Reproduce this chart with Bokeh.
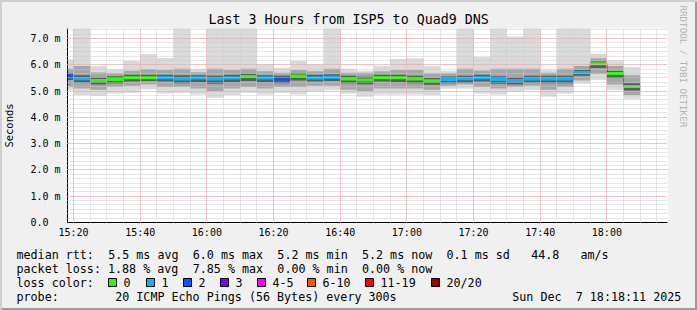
import re
import pandas as pd
from bokeh.plotting import figure
from bokeh.layouts import column
from bokeh.models import (FixedTicker, DatetimeTickFormatter, Range1d,
                          ColumnDataSource, Title)
from bokeh.core.properties import value
from bokeh.embed import file_html
from bokeh.resources import INLINE

# ---------------- data ----------------
title_text = "Last 3 Hours from ISP5 to Quad9 DNS"
window_start = "2025-12-07 15:18:11"
window_end = "2025-12-07 18:18:11"
first_bin = "2025-12-07 15:15"
n_bins = 35
bin_minutes = 5

median_ms = [5.58, 5.47, 5.40, 5.44, 5.51, 5.51, 5.51, 5.46, 5.50, 5.46, 5.50, 5.55,
             5.50, 5.46, 5.57, 5.50, 5.53, 5.46, 5.42, 5.51, 5.51, 5.46, 5.39, 5.44,
             5.47, 5.51, 5.44, 5.40, 5.46, 5.46, 5.46, 5.71, 6.04, 5.67, 5.17]
loss_count = [2, 1, 0, 0, 0, 0, 1, 1, 1, 1, 1, 0, 1, 2, 0, 1, 1, 0, 0, 0, 0, 0, 0, 1,
              1, 1, 1, 1, 1, 1, 1, 1, 0, 0, 0]
ping_max = [6.20, 7.50, 5.95, 5.83, 6.14, 6.41, 6.26, 7.50, 5.85, 7.50, 7.50, 7.50,
            6.01, 5.89, 6.14, 6.01, 7.50, 5.85, 5.77, 5.95, 6.22, 6.25, 5.95, 5.77,
            7.50, 6.30, 7.50, 7.08, 7.50, 5.81, 7.50, 7.50, 6.42, 6.17, 5.92]
ping_min = [5.03, 4.85, 4.82, 4.91, 4.94, 5.06, 4.91, 4.94, 4.87, 4.75, 4.85, 4.94,
            4.87, 4.94, 4.87, 4.99, 5.03, 4.91, 4.78, 4.87, 4.87, 4.87, 4.85, 5.09,
            5.09, 4.91, 4.87, 4.97, 5.03, 4.78, 4.91, 5.28, 5.42, 5.03, 4.69]
ping_hi1 = [5.85, 5.95, 5.71, 5.68, 5.77, 5.83, 5.80, 5.85, 5.72, 5.85, 5.80, 5.85,
            5.75, 5.70, 5.80, 5.75, 5.85, 5.70, 5.70, 5.75, 5.80, 5.80, 5.68, 5.68,
            5.85, 5.78, 5.85, 5.85, 5.85, 5.70, 5.85, 5.95, 6.25, 5.95, 5.60]
ping_lo1 = [5.15, 5.10, 5.05, 5.15, 5.20, 5.25, 5.15, 5.15, 5.10, 5.00, 5.10, 5.15,
            5.10, 5.15, 5.15, 5.20, 5.20, 5.05, 5.00, 5.10, 5.10, 5.10, 5.05, 5.20,
            5.25, 5.15, 5.10, 5.15, 5.20, 5.05, 5.15, 5.40, 5.65, 5.25, 4.85]
ping_hi2 = [5.68, 5.60, 5.52, 5.56, 5.62, 5.62, 5.62, 5.60, 5.60, 5.58, 5.62, 5.66,
            5.60, 5.58, 5.68, 5.62, 5.64, 5.58, 5.54, 5.62, 5.62, 5.58, 5.50, 5.55,
            5.58, 5.62, 5.56, 5.52, 5.58, 5.58, 5.58, 5.80, 6.12, 5.76, 5.30]
ping_lo2 = [5.42, 5.32, 5.25, 5.30, 5.36, 5.38, 5.36, 5.30, 5.34, 5.28, 5.34, 5.38,
            5.34, 5.30, 5.40, 5.36, 5.38, 5.30, 5.26, 5.36, 5.34, 5.30, 5.24, 5.30,
            5.32, 5.36, 5.28, 5.25, 5.32, 5.30, 5.30, 5.58, 5.88, 5.50, 5.02]

loss_labels = ["0", "1", "2", "3", "4-5", "6-10", "11-19", "20/20"]
loss_colors = ["#26ff00", "#00b8ff", "#0059ff", "#7e00ff", "#ff00ff", "#ff5500",
               "#ff0000", "#a10000"]

y_ticks = [0, 1, 2, 3, 4, 5, 6, 7]
y_tick_labels = ["0.0\u00a0\u00a0", "1.0 m", "2.0 m", "3.0 m", "4.0 m", "5.0 m",
                 "6.0 m", "7.0 m"]
x_tick_times = ["15:20", "15:40", "16:00", "16:20", "16:40", "17:00", "17:20",
                "17:40", "18:00"]

legend_lines = [
    "median rtt:  5.5 ms avg  6.0 ms max  5.2 ms min  5.2 ms now  0.1 ms sd   44.8   am/s",
    "packet loss: 1.88 % avg  7.85 % max  0.00 % min  0.00 % now",
    "loss color:",
    "probe:        20 ICMP Echo Pings (56 Bytes) every 300s",
]
date_text = "Sun Dec  7 18:18:11 2025"
credit_text = "RRDTOOL / TOBI OETIKER"
y_max = 7.38

# ---------------- helpers ----------------
def ms(ts):
    return pd.Timestamp(ts).value / 1e6

starts = pd.date_range(first_bin, periods=n_bins, freq=f"{bin_minutes}min")
left = [ms(t) for t in starts]
right = [ms(t + pd.Timedelta(minutes=bin_minutes)) for t in starts]

src = ColumnDataSource(dict(
    left=left, right=right, med=median_ms, mx=ping_max, mn=ping_min,
    hi1=ping_hi1, lo1=ping_lo1, hi2=ping_hi2, lo2=ping_lo2,
    col=[loss_colors[c] for c in loss_count],
))

MONO = "DejaVu Sans Mono"
BACK = "#f0f0f0"
W = 697
H1, H2 = 240, 70
FL, FR, FT, FB = 67, 667, 28, 228   # frame edges on canvas
CW = 7.05                           # monospace column width of legend text
TXT = "11.7px"

p = figure(width=W, height=H1, output_backend="svg", toolbar_location=None,
           x_axis_type="datetime",
           x_range=Range1d(ms(window_start), ms(window_end)),
           y_range=Range1d(0, y_max),
           min_border_left=FL, min_border_right=W - FR,
           min_border_top=FT, min_border_bottom=H1 - FB)
p.frame_align = False
p.title.text = title_text
p.title.align = "left"
p.title.offset = 141
p.title.text_font = MONO
p.title.text_font_size = "13.3px"
p.title.text_font_style = "normal"
p.title.text_color = "#000000"
p.title.standoff = 3
p.background_fill_color = "#ffffff"
p.border_fill_alpha = 0.0
p.outline_line_color = None

credit = Title(text=credit_text, align="left", vertical_align="top",
               text_font=MONO, text_font_size="9.2px", text_font_style="normal",
               text_color="#b4b4b4", offset=-23, standoff=16)
p.add_layout(credit, "right")

# smoke
p.quad(left="left", right="right", bottom="mn", top="mx", source=src,
       fill_color="#dadada", line_color=None)
p.quad(left="left", right="right", bottom="lo1", top="hi1", source=src,
       fill_color="#a6a6a6", line_color=None)
p.quad(left="left", right="right", bottom="lo2", top="hi2", source=src,
       fill_color="#5c5c5c", line_color=None)

# median
p.step(x=left + [right[-1]], y=median_ms + [median_ms[-1]], mode="after",
       line_color="#202020", line_width=1)
p.segment(x0="left", x1="right", y0="med", y1="med", source=src,
          line_color="col", line_width=3)

# axes
xt = [ms("2025-12-07 " + t) for t in x_tick_times]
minor_x = [ms(t) for t in pd.date_range("2025-12-07 15:20", "2025-12-07 18:15", freq="5min")]
p.xaxis.ticker = FixedTicker(ticks=xt, minor_ticks=minor_x)
p.xaxis.formatter = DatetimeTickFormatter(minutes="%H:%M", hours="%H:%M", minsec="%H:%M")
p.yaxis.ticker = FixedTicker(ticks=y_ticks, minor_ticks=[i / 6 for i in range(0, 45)])
p.yaxis.major_label_overrides = {t: l for t, l in zip(y_ticks, y_tick_labels)}
for ax in (p.xaxis[0], p.yaxis[0]):
    ax.major_tick_in = 0
    ax.major_tick_out = 0
    ax.minor_tick_in = 0
    ax.minor_tick_out = 0
    ax.axis_line_color = "#000000"
    ax.major_label_text_font = MONO
    ax.major_label_text_font_size = "10px"
    ax.major_label_text_color = "#000000"
p.xaxis.major_label_standoff = 4
p.yaxis.major_label_standoff = 7
p.yaxis.axis_label = "Seconds"
p.yaxis.axis_label_text_font = MONO
p.yaxis.axis_label_text_font_size = "10.5px"
p.yaxis.axis_label_text_font_style = "normal"
p.yaxis.axis_label_text_color = "#000000"
p.yaxis.axis_label_standoff = 12

for g in (p.xgrid[0], p.ygrid[0]):
    g.level = "overlay"
    g.grid_line_color = "#f4a0a0"
    g.grid_line_alpha = 1.0
    g.grid_line_dash = "1 1"
    g.minor_grid_line_color = "#c8c8c8"
    g.minor_grid_line_alpha = 0.9
    g.minor_grid_line_dash = "1 1"

# ---------------- legend panel (pixel coordinates) ----------------
q = figure(width=W, height=H2, output_backend="svg", toolbar_location=None,
           x_range=Range1d(0, W), y_range=Range1d(H1 + H2, H1),
           min_border=0, x_axis_location=None, y_axis_location=None)
q.frame_align = False
q.title = None
q.background_fill_alpha = 0.0
q.border_fill_alpha = 0.0
q.outline_line_color = None
q.xgrid.visible = False
q.ygrid.visible = False

row_y = [254, 268, 282, 296]
tx, ty, tt = [], [], []
for line, yy in zip(legend_lines, row_y):
    for m in re.finditer(r"\S+(?: \S+)*", line):
        tx.append(16 + m.start() * CW)
        ty.append(yy)
        tt.append(m.group())
q.text(x=tx, y=ty, text=tt, text_font=value(MONO), text_font_size=TXT,
       text_color="#000000", text_baseline="middle", text_align="left")

date_x0 = 681 - len(date_text) * CW
dx, dt = [], []
for m in re.finditer(r"\S+(?: \S+)*", date_text):
    dx.append(date_x0 + m.start() * CW)
    dt.append(m.group())
q.text(x=dx, y=[296] * len(dx), text=dt, text_font=value(MONO), text_font_size=TXT,
       text_color="#000000", text_baseline="middle", text_align="left")

box_x = [108, 146, 183, 220, 257, 307, 365, 431]
q.quad(left=box_x, right=[b + 8 for b in box_x], top=[278] * 8, bottom=[286] * 8,
       fill_color=loss_colors, line_color="#000000", line_width=1)
q.text(x=[b + 15 for b in box_x], y=[282] * 8, text=loss_labels,
       text_font=value(MONO), text_font_size=TXT, text_color="#000000",
       text_baseline="middle", text_align="left")

layout = column(p, q, spacing=0)
layout.styles = {
    "background-color": BACK,
    "box-shadow": "inset 2px 2px 0 #cfcfcf, inset -2px -2px 0 #9c9c9c",
}
open("out.html", "w").write(file_html(layout, INLINE))
